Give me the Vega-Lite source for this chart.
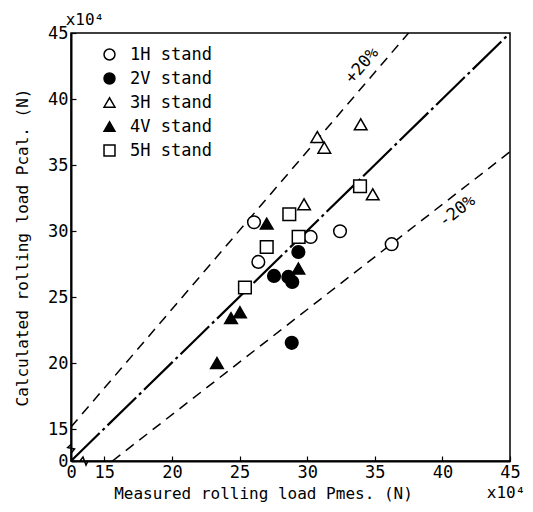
{
  "$schema": "https://vega.github.io/schema/vega-lite/v6.json",
  "width": 439,
  "height": 428,
  "autosize": {"type": "none"},
  "padding": {"left": 71, "top": 33, "right": 23, "bottom": 51},
  "background": "white",
  "config": {
    "font": "DejaVu Sans Mono",
    "view": {"stroke": "black", "strokeWidth": 1.5},
    "axis": {
      "labelFont": "DejaVu Sans Mono",
      "titleFont": "DejaVu Sans Mono",
      "labelFontSize": 17,
      "titleFontSize": 16,
      "titleFontWeight": "normal",
      "labelColor": "black",
      "titleColor": "black",
      "domainColor": "black",
      "domainWidth": 2,
      "tickColor": "black",
      "tickWidth": 1.2,
      "grid": false
    }
  },
  "datasets": {
    "points": [
      {"stand": "1H stand", "x": 26.07, "y": 30.66},
      {"stand": "1H stand", "x": 26.39, "y": 27.66},
      {"stand": "1H stand", "x": 30.26, "y": 29.55},
      {"stand": "1H stand", "x": 32.43, "y": 29.98},
      {"stand": "1H stand", "x": 36.25, "y": 29.0},
      {"stand": "2V stand", "x": 29.35, "y": 28.41},
      {"stand": "2V stand", "x": 27.55, "y": 26.6},
      {"stand": "2V stand", "x": 28.61, "y": 26.52},
      {"stand": "2V stand", "x": 28.9, "y": 26.14},
      {"stand": "2V stand", "x": 28.86, "y": 21.53},
      {"stand": "3H stand", "x": 33.96, "y": 38.08},
      {"stand": "3H stand", "x": 30.75, "y": 37.12},
      {"stand": "3H stand", "x": 31.27, "y": 36.31},
      {"stand": "3H stand", "x": 29.77, "y": 32.02},
      {"stand": "3H stand", "x": 34.85, "y": 32.78},
      {"stand": "4V stand", "x": 27.01, "y": 30.56},
      {"stand": "4V stand", "x": 29.35, "y": 27.16},
      {"stand": "4V stand", "x": 25.03, "y": 23.85},
      {"stand": "4V stand", "x": 24.37, "y": 23.4},
      {"stand": "4V stand", "x": 23.33, "y": 20.0},
      {"stand": "5H stand", "x": 33.91, "y": 33.39},
      {"stand": "5H stand", "x": 28.68, "y": 31.27},
      {"stand": "5H stand", "x": 29.37, "y": 29.55},
      {"stand": "5H stand", "x": 27.01, "y": 28.79},
      {"stand": "5H stand", "x": 25.4, "y": 25.72}
    ],
    "lines": [
      {"line": "main", "x": 0, "y": 0},
      {"line": "main", "x": 45, "y": 45},
      {"line": "plus", "x": 0, "y": 15.15},
      {"line": "plus", "x": 37.5, "y": 45},
      {"line": "minus", "x": 15.6, "y": 0},
      {"line": "minus", "x": 45, "y": 36}
    ],
    "breaks": [
      {"axis": "x", "order": 1, "x": 4.05, "y": 0},
      {"axis": "x", "order": 2, "x": 5.4, "y": 1.9},
      {"axis": "x", "order": 3, "x": 6.76, "y": -1.9},
      {"axis": "x", "order": 4, "x": 7.66, "y": 0},
      {"axis": "y", "order": 1, "x": 0.2, "y": 8.0},
      {"axis": "y", "order": 2, "x": -1.5, "y": 6.3},
      {"axis": "y", "order": 3, "x": 1.6, "y": 5.6},
      {"axis": "y", "order": 4, "x": 0.2, "y": 3.8}
    ],
    "labels": [
      {"text": "+20%", "x": 34.06, "y": 42.54, "angle": 310.5},
      {"text": "-20%", "x": 41.09, "y": 31.49, "angle": 322}
    ],
    "units": [
      {"text": "x10⁴", "x": 6.3, "y": 45.95},
      {"text": "x10⁴", "x": 44.71, "y": -15}
    ]
  },
  "layer": [
    {
      "data": {"name": "lines"},
      "transform": [{"filter": "datum.line === 'main'"}],
      "mark": {"type": "line", "color": "black", "strokeWidth": 2.2, "strokeDash": [40, 4, 3, 4], "clip": true},
      "encoding": {
        "x": {"field": "x", "type": "quantitative", "scale": {"domain": [0, 15, 45], "range": [0, 33.3, 439], "nice": false, "zero": false},
          "axis": {"values": [0, 15, 20, 25, 30, 35, 40, 45], "title": "Measured rolling load Pmes. (N)", "tickSize": -5, "labelPadding": 8, "titleX": 192, "titlePadding": 5, "labelFlush": false}},
        "y": {"field": "y", "type": "quantitative", "scale": {"domain": [0, 15, 45], "range": [428, 396, 0], "nice": false, "zero": false},
          "axis": {"values": [0, 15, 20, 25, 30, 35, 40, 45], "title": "Calculated rolling load Pcal. (N)", "tickSize": -5, "labelPadding": 8, "titlePadding": 17, "labelFlush": false}}
      }
    },
    {
      "data": {"name": "lines"},
      "transform": [{"filter": "datum.line !== 'main'"}],
      "mark": {"type": "line", "color": "black", "strokeWidth": 1.5, "strokeDash": [10, 7], "clip": true},
      "encoding": {
        "x": {"field": "x", "type": "quantitative"},
        "y": {"field": "y", "type": "quantitative"},
        "detail": {"field": "line"}
      }
    },
    {
      "data": {"name": "breaks"},
      "mark": {"type": "line", "color": "black", "strokeWidth": 1.5, "clip": false},
      "encoding": {
        "x": {"field": "x", "type": "quantitative"},
        "y": {"field": "y", "type": "quantitative"},
        "detail": {"field": "axis"},
        "order": {"field": "order"}
      }
    },
    {
      "data": {"name": "labels"},
      "mark": {"type": "text", "fontSize": 17, "color": "black", "font": "DejaVu Sans Mono"},
      "encoding": {
        "x": {"field": "x", "type": "quantitative"},
        "y": {"field": "y", "type": "quantitative"},
        "text": {"field": "text"},
        "angle": {"field": "angle", "type": "quantitative", "scale": null}
      }
    },
    {
      "data": {"name": "units"},
      "mark": {"type": "text", "fontSize": 16, "color": "black", "font": "DejaVu Sans Mono", "clip": false},
      "encoding": {
        "x": {"field": "x", "type": "quantitative"},
        "y": {"field": "y", "type": "quantitative"},
        "text": {"field": "text"}
      }
    },
    {
      "data": {"name": "points"},
      "mark": {"type": "point", "stroke": "black", "strokeWidth": 1.5, "opacity": 1, "size": 160},
      "encoding": {
        "x": {"field": "x", "type": "quantitative"},
        "y": {"field": "y", "type": "quantitative"},
        "shape": {"field": "stand", "type": "nominal", "title": null,
          "scale": {"domain": ["1H stand", "2V stand", "3H stand", "4V stand", "5H stand"], "range": ["circle", "circle", "triangle-up", "triangle-up", "square"]}},
        "fill": {"field": "stand", "type": "nominal", "title": null,
          "scale": {"domain": ["1H stand", "2V stand", "3H stand", "4V stand", "5H stand"], "range": ["white", "black", "white", "black", "white"]},
          "legend": {"orient": "none", "legendX": 30, "legendY": 13, "labelFontSize": 17, "labelFont": "DejaVu Sans Mono", "labelColor": "black", "symbolSize": 120, "symbolStrokeWidth": 1.5, "symbolStrokeColor": "black", "rowPadding": 6, "labelOffset": 12, "padding": 0}}
      }
    }
  ]
}
